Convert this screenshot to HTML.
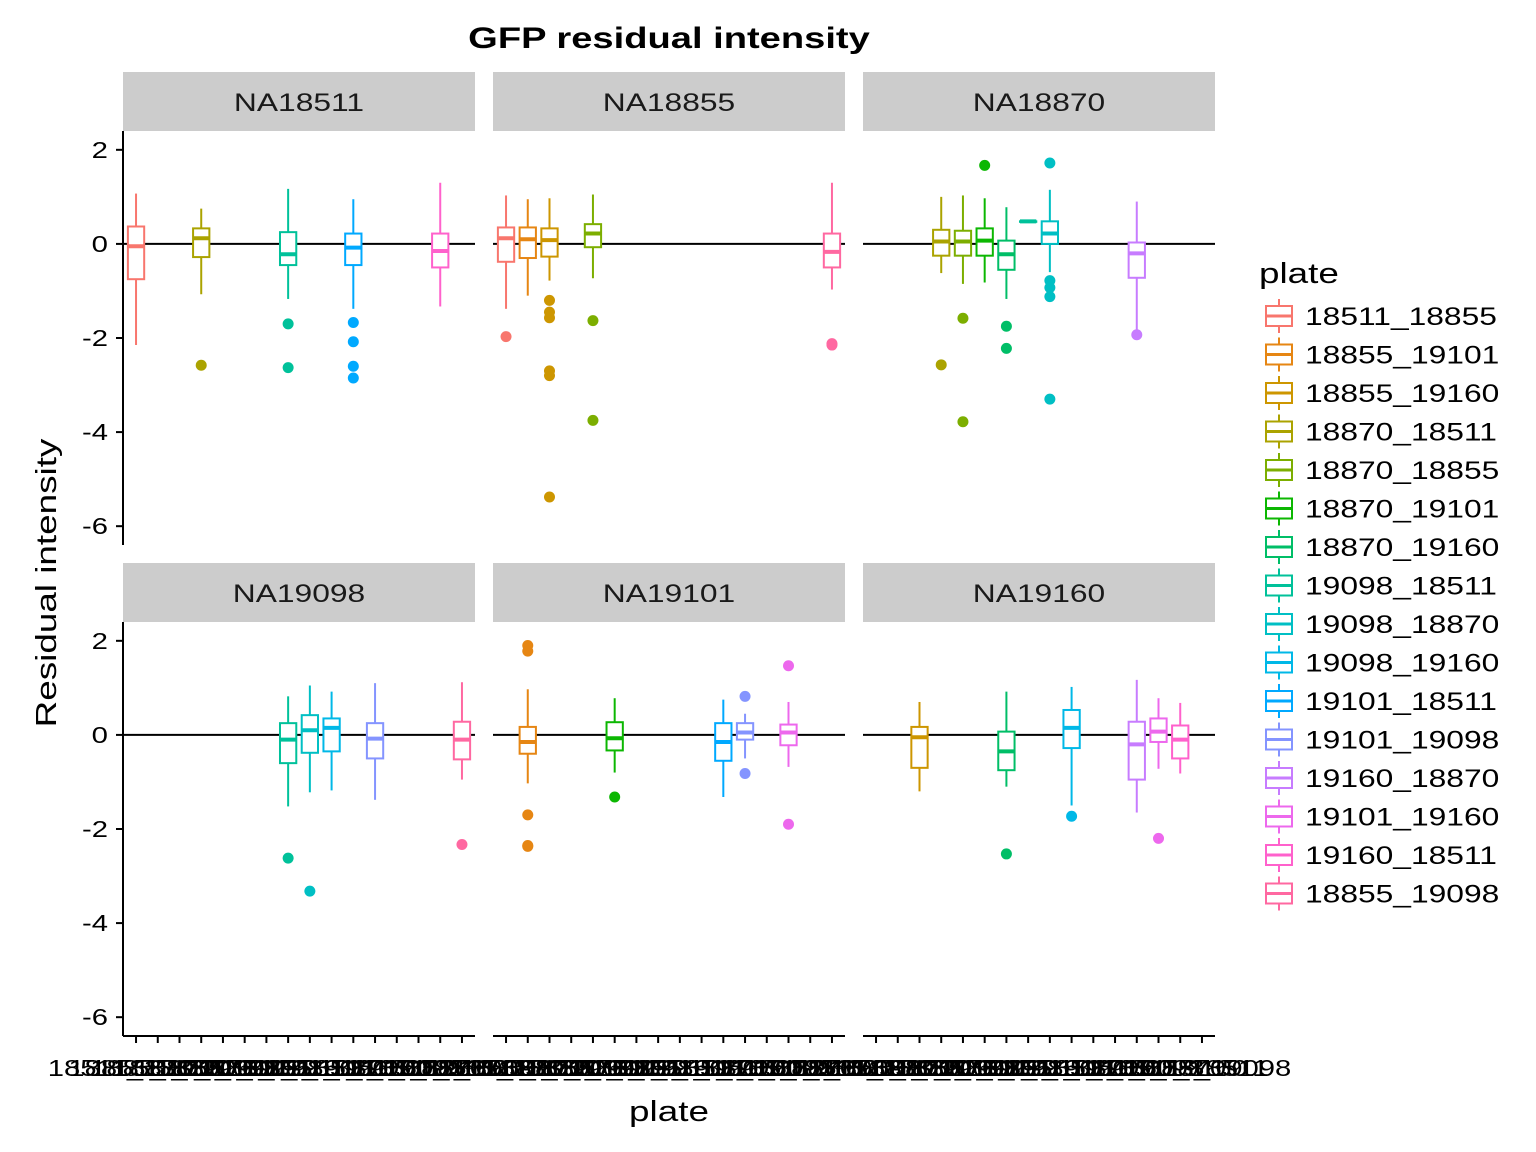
<!DOCTYPE html>
<html><head><meta charset="utf-8"><style>
body{margin:0;background:#fff;}
svg{display:block;font-family:"Liberation Sans",Arial,sans-serif;}
</style></head><body>
<svg id="chart" width="1536" height="1152" viewBox="0 0 1536 1152"></svg>
<script>
const levels=["18511_18855","18855_19101","18855_19160","18870_18511","18870_18855","18870_19101","18870_19160","19098_18511","19098_18870","19098_19160","19101_18511","19101_19098","19160_18870","19101_19160","19160_18511","18855_19098"];
const colors=["#F8766D","#E68613","#CD9600","#ABA300","#7CAE00","#0CB702","#00BE67","#00C19A","#00BFC4","#00B8E7","#00A9FF","#8494FF","#C77CFF","#ED68ED","#FF61CC","#FF68A1"];
const panels=["NA18511","NA18855","NA18870","NA19098","NA19101","NA19160"];
const yTicks=[2,0,-2,-4,-6];
// box stats per panel: [levelIndex, low, q1, med, q3, high, outliers]
const boxes0=[[0,-2.15,-0.75,-0.05,0.37,1.07,[]],[3,-1.07,-0.28,0.12,0.33,0.75,[-2.58]],[7,-1.17,-0.45,-0.22,0.25,1.17,[-1.7,-2.63]],[10,-1.38,-0.45,-0.08,0.22,0.95,[-1.67,-2.08,-2.6,-2.85]],[14,-1.33,-0.5,-0.15,0.22,1.3,[]]];
const boxes1=[[0,-1.38,-0.38,0.12,0.35,1.03,[-1.97]],[1,-1.1,-0.3,0.1,0.35,0.95,[]],[2,-0.78,-0.27,0.08,0.33,0.97,[-1.2,-1.45,-1.57,-2.7,-2.8,-5.38]],[4,-0.73,-0.07,0.22,0.42,1.05,[-1.63,-3.75]],[15,-0.97,-0.5,-0.17,0.22,1.3,[-2.12,-2.15]]];
const boxes2=[[3,-0.62,-0.25,0.05,0.3,1.0,[-2.57]],[4,-0.85,-0.25,0.05,0.28,1.03,[-1.58,-3.78]],[5,-0.82,-0.25,0.07,0.33,0.97,[1.67]],[6,-1.17,-0.55,-0.22,0.07,0.78,[-1.75,-2.22]],[7,0.48,0.48,0.48,0.48,0.48,[]],[8,-0.6,0.0,0.22,0.48,1.15,[1.72,-0.78,-0.93,-1.12,-3.3]],[12,-1.9,-0.72,-0.2,0.03,0.9,[-1.93]]];
const boxes3=[[7,-1.52,-0.6,-0.1,0.25,0.82,[-2.62]],[8,-1.22,-0.38,0.1,0.42,1.05,[-3.32]],[9,-1.18,-0.35,0.15,0.35,0.92,[]],[11,-1.38,-0.5,-0.08,0.25,1.1,[]],[15,-0.95,-0.52,-0.1,0.28,1.12,[-2.33]]];
const boxes4=[[1,-1.03,-0.4,-0.15,0.17,0.97,[1.9,1.78,-1.7,-2.35,-2.37]],[5,-0.8,-0.33,-0.07,0.27,0.78,[-1.32]],[10,-1.32,-0.55,-0.15,0.25,0.75,[]],[11,-0.5,-0.1,0.05,0.25,0.45,[0.82,-0.82]],[13,-0.68,-0.22,0.05,0.22,0.7,[1.47,-1.9]]];
const boxes5=[[2,-1.2,-0.7,-0.05,0.17,0.7,[]],[6,-1.1,-0.75,-0.35,0.07,0.92,[-2.53]],[9,-1.5,-0.28,0.15,0.53,1.02,[-1.73]],[12,-1.65,-0.95,-0.2,0.28,1.17,[]],[13,-0.72,-0.15,0.07,0.35,0.78,[-2.2]],[14,-0.82,-0.5,-0.1,0.2,0.68,[]]];
const allBoxes=[boxes0,boxes1,boxes2,boxes3,boxes4,boxes5];

const svg=document.getElementById('chart');
const NS="http://www.w3.org/2000/svg";
function mk(tag,attrs,parent){const e=document.createElementNS(NS,tag);for(const k in attrs)e.setAttribute(k,attrs[k]);(parent||svg).appendChild(e);return e;}
const colX=[123,493,863], pw=352;
const rowTop=[131,622], ph=414;
const yMin=-6.4, yMax=2.4;
function yScale(row,v){return rowTop[row]+ (yMax-v)/(yMax-yMin)*ph;}
const step=pw/(levels.length-1+1.2);
function xScale(col,i){return colX[col]+step*0.6+i*step;}

let t=mk('text',{x:669,y:48,'text-anchor':'middle','font-size':30,'font-weight':'bold',fill:'#000'});
t.textContent='GFP residual intensity';


for(let p=0;p<6;p++){
  const col=p%3,row=Math.floor(p/3);
  const g=mk('g',{});
  
  
  const st=mk('rect',{x:colX[col],y:rowTop[row]-59,width:pw,height:59,fill:'#cccccc'},g);
  
  
  const sl=mk('text',{x:colX[col]+pw/2,y:rowTop[row]-20,'text-anchor':'middle','font-size':25,fill:'#1a1a1a'},g);
  sl.textContent=panels[p];
  
  if(col===0){
    const ya=mk('line',{x1:colX[col],x2:colX[col],y1:rowTop[row],y2:rowTop[row]+ph,stroke:'#000','stroke-width':2},g);
    
    yTicks.forEach(v=>{
      const y=yScale(row,v);
      mk('line',{x1:colX[col]-7,x2:colX[col],y1:y,y2:y,stroke:'#000','stroke-width':2},g);
      const tl=mk('text',{x:colX[col]-15,y:y+8,'text-anchor':'end','font-size':23,fill:'#000'},g);
      tl.textContent=v;
      
    });
  }
  if(row===1){
    const xa=mk('line',{x1:colX[col],x2:colX[col]+pw,y1:rowTop[row]+ph,y2:rowTop[row]+ph,stroke:'#000','stroke-width':2},g);
    
    levels.forEach((lv,i)=>{
      const x=xScale(col,i);
      mk('line',{x1:x,x2:x,y1:rowTop[row]+ph,y2:rowTop[row]+ph+7,stroke:'#000','stroke-width':2},g);
      const xl=mk('text',{x:x,y:rowTop[row]+ph+40,'text-anchor':'middle','font-size':23,fill:'#000'},g);
      xl.textContent=lv;
      
    });
  }
  const zl=mk('line',{x1:colX[col],x2:colX[col]+pw,y1:yScale(row,0),y2:yScale(row,0),stroke:'#000','stroke-width':2},g);
  
  allBoxes[p].forEach(b=>{
    const [i,lo,q1,md,q3,hi,out]=b;const c=colors[i];const x=xScale(col,i);const hw=step*0.375;
    const bg=mk('g',{},g);
    
    
    mk('line',{x1:x,x2:x,y1:yScale(row,hi),y2:yScale(row,q3),stroke:c,'stroke-width':2},bg);
    mk('line',{x1:x,x2:x,y1:yScale(row,q1),y2:yScale(row,lo),stroke:c,'stroke-width':2},bg);
    mk('rect',{x:x-hw,y:yScale(row,q3),width:2*hw,height:Math.max(0.5,yScale(row,q1)-yScale(row,q3)),fill:'#fff',stroke:c,'stroke-width':2},bg);
    mk('line',{x1:x-hw,x2:x+hw,y1:yScale(row,md),y2:yScale(row,md),stroke:c,'stroke-width':4},bg);
    out.forEach(o=>{
      const pt=mk('circle',{cx:x,cy:yScale(row,o),r:5.5,fill:c},bg);
      
    });
  });
}
let yt=mk('text',{x:0,y:0,'text-anchor':'middle','font-size':29,fill:'#000',transform:'translate(56,583) rotate(-90)'});
yt.textContent='Residual intensity';
let xt=mk('text',{x:669,y:1121,'text-anchor':'middle','font-size':29,fill:'#000'});
xt.textContent='plate';
const lg=mk('g',{});
let lt=mk('text',{x:1259,y:283,'font-size':29,fill:'#000'},lg);
lt.textContent='plate';
levels.forEach((lv,i)=>{
  const y=316+i*38.5;const c=colors[i];
  const e=mk('g',{},lg);
  
  mk('line',{x1:1279,x2:1279,y1:y-17,y2:y+17,stroke:c,'stroke-width':2},e);
  mk('rect',{x:1266,y:y-10,width:26,height:20,fill:'#fff',stroke:c,'stroke-width':2},e);
  mk('line',{x1:1266,x2:1292,y1:y,y2:y,stroke:c,'stroke-width':3},e);
  const tx=mk('text',{x:1305,y:y+9,'font-size':25,fill:'#000'},e);
  tx.textContent=lv;
});
// widen text to match reference font metrics
svg.querySelectorAll('text').forEach(el=>{
  const len=el.getComputedTextLength();
  if(len>0){el.setAttribute('textLength',(len*1.27).toFixed(1));el.setAttribute('lengthAdjust','spacingAndGlyphs');}
});
</script>
</body></html>
